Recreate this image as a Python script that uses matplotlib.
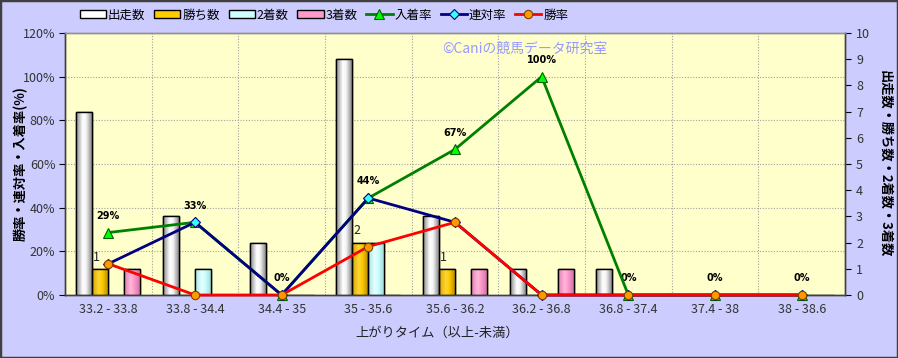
import matplotlib
matplotlib.use("Agg")
import matplotlib.pyplot as plt
import numpy as np
from matplotlib.colors import LinearSegmentedColormap
from matplotlib.patches import Patch, Rectangle
from matplotlib.lines import Line2D

plt.rcParams['font.family'] = ['Noto Sans CJK JP', 'DejaVu Sans']

categories = ["33.2 - 33.8", "33.8 - 34.4", "34.4 - 35", "35 - 35.6", "35.6 - 36.2",
              "36.2 - 36.8", "36.8 - 37.4", "37.4 - 38", "38 - 38.6"]
starts = [7, 3, 2, 9, 3, 1, 1, 0, 0]          # 出走数
wins = [1, 0, 0, 2, 1, 0, 0, 0, 0]            # 勝ち数
seconds = [0, 1, 0, 2, 0, 0, 0, 0, 0]         # 2着数
thirds = [1, 0, 0, 0, 1, 1, 0, 0, 0]          # 3着数
place_rate = [28.6, 33.3, 0, 44.4, 66.7, 100, 0, 0, 0]   # 入着率
quinella_rate = [14.3, 33.3, 0, 44.4, 33.3, 0, 0, 0, 0]  # 連対率
win_rate = [14.3, 0, 0, 22.2, 33.3, 0, 0, 0, 0]          # 勝率

fig = plt.figure(figsize=(8.98, 3.58), dpi=100)
fig.patch.set_facecolor('#CCCCFF')
ax = fig.add_axes([65/898, 1-295/358, (845-65)/898, (295-33)/358])
ax.set_facecolor('#FFFFCC')
ax2 = ax.twinx()

x = np.arange(len(categories))
w = 0.185
bar_specs = [
    (starts, '出走数', '#FFFFFF', ['#888888', '#ffffff', '#f4f4f4', '#777777']),
    (wins, '勝ち数', '#FFCC00', ['#D9A600', '#FFD633', '#FFCC00', '#B38600']),
    (seconds, '2着数', '#CCFFFF', ['#A6E6E6', '#E6FFFF', '#CCFFFF', '#99D6D6']),
    (thirds, '3着数', '#FF99CC', ['#E07FB0', '#FFB8DB', '#FF99CC', '#CC6E9E']),
]
ax.set_xlim(-0.5, len(categories) - 0.5)
ax.set_ylim(0, 10)
grad = np.linspace(0, 1, 64).reshape(1, -1)
handles = []
for i, (vals, name, base, cols) in enumerate(bar_specs):
    offs = (i - 1.5) * w
    bars = ax.bar(x + offs, vals, w, color=base, edgecolor='black', linewidth=1, zorder=3)
    cmap = LinearSegmentedColormap.from_list(name, list(zip([0, 0.4, 0.6, 1], cols)))
    for b in bars:
        if b.get_height() <= 0:
            continue
        bx, by = b.get_x(), b.get_y()
        im = ax.imshow(grad, cmap=cmap, extent=[bx, bx + b.get_width(), by, by + b.get_height()],
                       aspect='auto', zorder=3.5, interpolation='bilinear')
        im.set_clip_path(b)
        ax.add_patch(Rectangle((bx, by), b.get_width(), b.get_height(), fill=False,
                               edgecolor='black', linewidth=1, zorder=4))
    handles.append(Patch(facecolor=base, edgecolor='black', label=name))
ax.set_xlim(-0.5, len(categories) - 0.5)
ax.set_ylim(0, 10)

for xi, v in zip(x, wins):
    if v > 0:
        ax.text(xi - 0.5 * w - 0.04, v + 0.45, str(v), ha='center', va='center', fontsize=9,
                color='#222222', zorder=6)

# grid
pct_ticks = np.arange(0, 121, 20)
for p in pct_ticks[1:-1]:
    ax.axhline(p / 120 * 10, color='#A0A0A0', linestyle=(0, (1, 1.5)), linewidth=0.8, zorder=1)
for b in np.arange(0.5, len(categories) - 0.5, 1):
    ax.axvline(b, color='#A0A0A0', linestyle=(0, (1, 1.5)), linewidth=0.8, zorder=1)

# lines
ax2.set_ylim(0, 120)
l1, = ax2.plot(x, place_rate, color='#008000', lw=2, marker='^', ms=7, mfc='#00FF00',
               mec='#006000', mew=0.8, label='入着率', zorder=5, clip_on=False)
l2, = ax2.plot(x, quinella_rate, color='#000080', lw=2, marker='D', ms=5, mfc='#33FFFF',
               mec='#000080', mew=0.8, label='連対率', zorder=6, clip_on=False)
l3, = ax2.plot(x, win_rate, color='#FF0000', lw=2, marker='o', ms=6, mfc='#FF9900',
               mec='#804000', mew=0.8, label='勝率', zorder=7, clip_on=False)
for xi, v in zip(x, place_rate):
    ax2.annotate(f"{round(v)}%", (xi, v), xytext=(0, 12), textcoords='offset points',
                 ha='center', va='center', fontsize=7, fontweight='bold', color='black',
                 family=['DejaVu Sans'])
handles += [l1, l2, l3]

# axes config
ax.yaxis.tick_right()
ax.yaxis.set_label_position('right')
ax.set_yticks(np.arange(0, 11, 1))
ax2.yaxis.tick_left()
ax2.yaxis.set_label_position('left')
ax2.set_yticks(pct_ticks)
ax2.set_yticklabels([f"{p}%" for p in pct_ticks])
ax.set_xticks(x)
ax.set_xticklabels(categories)
ax.tick_params(axis='x', length=0, pad=6, labelsize=9, labelcolor='#333333')
ax.tick_params(axis='y', direction='out', length=4, labelsize=9, labelcolor='#333333', pad=4)
ax2.tick_params(axis='y', direction='out', length=4, labelsize=9, labelcolor='#333333', pad=3)
for a in (ax, ax2):
    for s in a.spines.values():
        s.set_color('#404040')
        s.set_linewidth(1)
ax.spines['top'].set_color('#909090')
ax2.spines['top'].set_color('#909090')

ax2.set_ylabel('勝率・連対率・入着率(%)', fontsize=9.5, fontweight='bold', va='center')
ax2.yaxis.set_label_coords(-44/780, 0.5)
ax.set_ylabel('出走数・勝ち数・2着数・3着数', fontsize=9.5, fontweight='bold', rotation=270,
              va='center')
ax.yaxis.set_label_coords(1 + 40/780, 0.5)
fig.text(437/898, 1-333/358, '上がりタイム（以上-未満）', ha='center', va='center', fontsize=9.5,
         color='#222222')
fig.text(525/898, 1-49/358, '©Caniの競馬データ研究室', ha='center', va='center', fontsize=10,
         color='#9999FF')

fig.legend(handles=handles, loc='center', bbox_to_anchor=(324/898, 1-15/358), ncol=7,
           frameon=False, fontsize=9, handlelength=2.1, handleheight=0.55, handletextpad=0.15,
           columnspacing=0.7, borderaxespad=0)

fig.add_artist(Rectangle((0, 0), 1, 1, transform=fig.transFigure, fill=False,
                         edgecolor='#404040', linewidth=2.5))
fig.savefig('out.png', dpi=100, facecolor=fig.get_facecolor())
